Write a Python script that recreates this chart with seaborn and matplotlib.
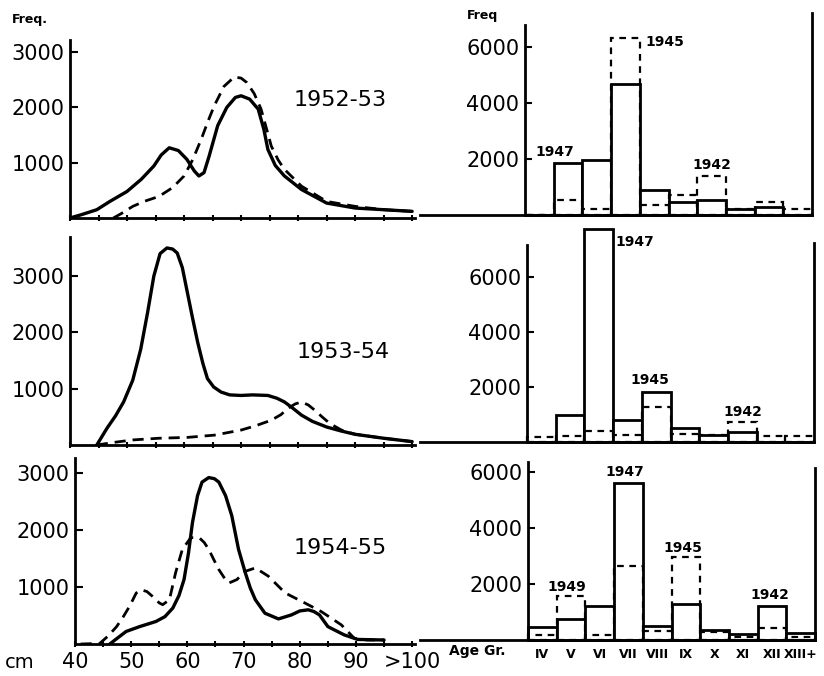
import numpy as np
import pandas as pd
import seaborn as sns
import matplotlib.pyplot as plt

# ---- data: length-frequency curves (cm vs freq) ----
len_5253_a = [40, 42, 44.7, 47, 50, 52.5, 54.7, 56, 57.4, 59, 60.5, 61.8, 62.6, 63.5, 64.4, 65.9, 67.5, 69, 70,
              71.5, 73, 74, 74.7, 76, 77.6, 80.6, 85, 90, 95, 100]
frq_5253_a = [0, 60, 150, 300, 480, 700, 940, 1140, 1270, 1220, 1060, 850, 760, 820, 1120, 1670, 2000, 2180, 2210,
              2150, 1970, 1600, 1240, 950, 760, 515, 270, 180, 150, 120]
len_5253_b = [47.6, 49, 51, 53, 55.6, 58, 60, 61.5, 63, 64.2, 65.3, 67, 68.8, 70, 71, 72.3, 73.5, 74.5, 75.3,
              76.5, 77.6, 80.6, 85, 90, 95, 100]
frq_5253_b = [0, 80, 210, 300, 390, 550, 760, 1050, 1420, 1750, 2030, 2380, 2550, 2530, 2450, 2250, 1970, 1600, 1300,
              1050, 880, 575, 300, 210, 150, 120]

len_5354_a = [44.7, 46.5, 48, 49.4, 51, 52.4, 53.6, 54.7, 55.8, 57, 58, 58.8, 59.7, 60.6, 61.5, 62.4, 63.3, 64.1,
              65.2, 66.5, 68, 70, 72, 74.7, 76.3, 77.6, 79, 80.6, 82.5, 85, 87.5, 90, 95, 100]
frq_5354_a = [0, 300, 520, 765, 1150, 1700, 2350, 3000, 3400, 3500, 3480, 3410, 3150, 2700, 2250, 1820, 1450, 1180,
              1030, 940, 890, 880, 890, 880, 830, 765, 660, 530, 420, 320, 250, 190, 120, 60]
len_5354_b = [44.7, 48, 51, 55.6, 60.6, 65.3, 70, 72.5, 75.3, 77, 78.2, 79.5, 80.6, 81.8, 82.9, 84.2, 85.6, 87.6,
              90, 95, 100]
frq_5354_b = [0, 50, 90, 120, 135, 175, 265, 340, 440, 540, 650, 730, 765, 710, 620, 500, 380, 265, 190, 120, 60]

len_5455_a = [46.2, 47.5, 49.1, 51.5, 54.4, 56, 57.4, 58.5, 59.4, 60.2, 60.9, 61.8, 62.6, 63.8, 64.8, 65.6, 66.8,
              67.9, 69.1, 70.3, 71.2, 72.1, 73.8, 76.2, 78.5, 80, 81.5, 82.5, 83.5, 85, 87.9, 90.3, 95]
frq_5455_a = [0, 100, 220, 305, 395, 480, 630, 850, 1130, 1600, 2130, 2600, 2840, 2920, 2900, 2840, 2600, 2250, 1660,
              1250, 980, 775, 540, 440, 510, 580, 600, 570, 510, 305, 160, 80, 70]
len_5455_b = [41, 44.4, 46, 47.4, 48.6, 49.7, 50.9, 51.8, 52.8, 53.8, 55, 55.6, 56.8, 57.9, 59.1, 60.6, 62.1, 63,
              63.8, 64.7, 65.6, 66.5, 67.4, 68.8, 70.3, 72.1, 74.4, 77.4, 80.9, 83.8, 87.4, 89.7, 92, 95]
frq_5455_b = [0, 10, 150, 305, 480, 660, 895, 950, 920, 835, 720, 690, 775, 1250, 1660, 1865, 1865, 1780, 1660, 1480,
              1305, 1170, 1070, 1130, 1275, 1335, 1190, 895, 720, 570, 335, 100, 70, 70]

seasons = ["1952-53", "1953-54", "1954-55"]
cm_ticks = [40, 50, 60, 70, 80, 90, 100]
cm_labels = ["40", "50", "60", "70", "80", "90", ">100"]

# ---- data: age group frequencies ----
age_groups = ["IV", "V", "VI", "VII", "VIII", "IX", "X", "XI", "XII", "XIII+"]
age_5253_a = [0, 1850, 1960, 4670, 880, 470, 550, 200, 270, 0]
age_5253_b = [0, 550, 200, 6320, 350, 700, 1410, 200, 470, 200]
age_5354_a = [0, 970, 7750, 790, 1820, 510, 270, 360, 0, 0]
age_5354_b = [180, 220, 390, 270, 1270, 300, 240, 730, 220, 220]
age_5455_a = [450, 750, 1210, 5620, 510, 1270, 360, 200, 1210, 240]
age_5455_b = [180, 1570, 180, 2640, 330, 2950, 300, 120, 420, 120]

# year-class labels (text, x position, y position)
yc_5253 = [("1947", 0.55, 2250), ("1945", 4.38, 6180), ("1942", 6.0, 1790)]
yc_5354 = [("1947", 3.26, 7270), ("1945", 3.79, 2250), ("1942", 7.03, 1090)]
yc_5455 = [("1947", 2.88, 6000), ("1949", 0.86, 1890), ("1945", 4.9, 3290), ("1942", 7.93, 1610)]

sns.set_style("white")
plt.rcParams["font.family"] = ["DejaVu Sans"]
plt.rcParams["text.color"] = "black"
plt.rcParams["xtick.color"] = "black"
plt.rcParams["ytick.color"] = "black"

W, H = 824, 676
fig = plt.figure(figsize=(W / 100, H / 100), dpi=100)


def add_ax(left, right, base, ppu, ytop):
    # left/right/base in pixels, ppu = pixels per freq unit
    top = base - ytop * ppu
    return fig.add_axes([left / W, 1 - base / H, (right - left) / W, (base - top) / H])


curves = [
    (len_5253_a, frq_5253_a, len_5253_b, frq_5253_b, 70, 218, 0.0553, 3220, (340, 100)),
    (len_5354_a, frq_5354_a, len_5354_b, frq_5354_b, 70, 445, 0.0563, 3690, (343, 352)),
    (len_5455_a, frq_5455_a, len_5455_b, frq_5455_b, 75, 644, 0.057, 3260, (340, 548)),
]

for i, (xa, ya, xb, yb, left, base, ppu, ytop, lab) in enumerate(curves):
    ax = add_ax(left, 415, base, ppu, ytop)
    sns.lineplot(x=xa, y=ya, ax=ax, color="black", lw=2.4, sort=False)
    sns.lineplot(x=xb, y=yb, ax=ax, color="black", lw=2, linestyle=(0, (4, 2.5)), sort=False)
    ax.set_xlim(40, 100.5)
    ax.set_ylim(0, ytop)
    for s in ["top", "right"]:
        ax.spines[s].set_visible(False)
    for s in ["left", "bottom"]:
        ax.spines[s].set_linewidth(2)
        ax.spines[s].set_color("black")
    ax.set_xticks(np.arange(40, 101, 5))
    ax.set_yticks([1000, 2000, 3000])
    ax.set_yticklabels(["1000", "2000", "3000"], fontsize=15)
    ax.tick_params(axis="y", left=True, direction="in", length=6, width=1.5, pad=4)
    ax.tick_params(axis="x", bottom=True, direction="inout", length=5, width=1.5)
    if i == 2:
        ax.set_xticklabels([cm_labels[cm_ticks.index(t)] if t in cm_ticks else ""
                            for t in range(40, 101, 5)], fontsize=15)
    else:
        ax.set_xticklabels([])
    ax.set_xlabel("")
    ax.set_ylabel("")
    fig.text(lab[0] / W, 1 - lab[1] / H, seasons[i], fontsize=16, ha="center", va="center")

bars = [
    (age_5253_a, age_5253_b, yc_5253, 525, 215, 0.028, 7210, 6790, 7210),
    (age_5354_a, age_5354_b, yc_5354, 527, 442, 0.0275, 8000, 7160, 7230),
    (age_5455_a, age_5455_b, yc_5455, 528, 640, 0.028, 6400, 6360, 6150),
]

for i, (va, vb, yc, yaxis, base, ppu, ytop, lbound, rbound) in enumerate(bars):
    unit = 28.7
    x0 = -0.5 - (yaxis - 420) / unit
    right = yaxis + 10 * unit
    ax = add_ax(420, right, base, ppu, ytop)
    df_a = pd.DataFrame({"age": age_groups, "freq": va})
    df_b = pd.DataFrame({"age": age_groups, "freq": vb})
    sns.barplot(data=df_a, x="age", y="freq", order=age_groups, ax=ax, color="white",
                edgecolor="black", linewidth=2, width=1.0, saturation=1, clip_on=False)
    sns.barplot(data=df_b, x="age", y="freq", order=age_groups, ax=ax, fill=False,
                edgecolor="black", linewidth=1.6, linestyle=(0, (3, 2.5)), width=1.0, clip_on=False)
    ax.set_xlim(x0, 9.5)
    ax.set_ylim(0, ytop)
    ax.spines["top"].set_visible(False)
    for s in ["left", "bottom", "right"]:
        ax.spines[s].set_linewidth(2)
        ax.spines[s].set_color("black")
    ax.spines["left"].set_position(("data", -0.5))
    ax.spines["left"].set_bounds(0, lbound)
    ax.spines["right"].set_bounds(0, rbound)
    ax.set_yticks([2000, 4000, 6000])
    ax.set_yticklabels(["2000", "4000", "6000"], fontsize=15)
    ax.tick_params(axis="y", left=True, right=False, direction="in", length=5, width=1.5, pad=4)
    ax.tick_params(axis="x", length=0, pad=6)
    if i == 2:
        ax.set_xticklabels(age_groups, fontsize=9, fontweight="bold")
    else:
        ax.set_xticklabels([])
    ax.set_xlabel("")
    ax.set_ylabel("")
    for txt, tx, ty in yc:
        ax.text(tx, ty, txt, fontsize=10, fontweight="bold", ha="center", va="center")

fig.text(30 / W, 1 - 20 / H, "Freq.", fontsize=9, fontweight="bold", ha="center", va="center")
fig.text(483 / W, 1 - 15 / H, "Freq", fontsize=9, fontweight="bold", ha="center", va="center")
fig.text(20 / W, 1 - 662 / H, "cm", fontsize=14, ha="center", va="center")
fig.text(477 / W, 1 - 651 / H, "Age Gr.", fontsize=10, fontweight="bold", ha="center", va="center")

fig.savefig("out.png", dpi=100, facecolor="white")
